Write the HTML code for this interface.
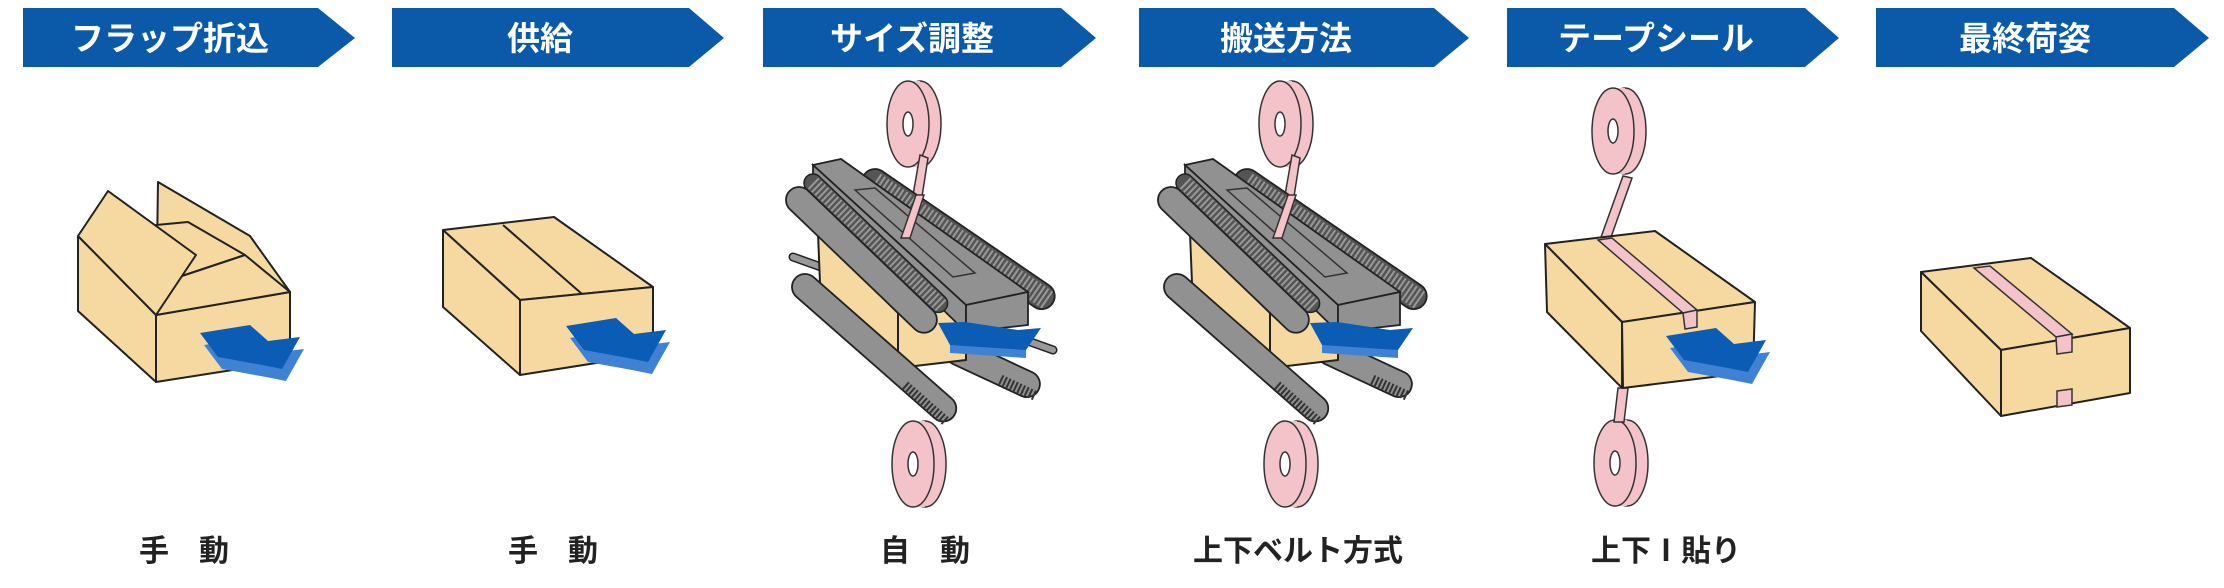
<!DOCTYPE html>
<html><head><meta charset="utf-8"><style>
html,body{margin:0;padding:0;background:#fff;}
svg{display:block;}
.bt{font-family:"Liberation Sans","Noto Sans CJK JP",sans-serif;font-weight:bold;fill:#fff;font-size:33px;}
.lb{font-family:"Liberation Sans","Noto Sans CJK JP",sans-serif;font-weight:bold;fill:#222;font-size:30px;}
.bx{fill:#f6d9a1;stroke:#222;stroke-width:2;stroke-linejoin:round;}
.pk{fill:#f4c3c9;stroke:#333;stroke-width:1.5;}
.gy{fill:#919191;stroke:#222;stroke-width:1.8;}
</style></head><body>
<svg width="2224" height="588" viewBox="0 0 2224 588" xmlns="http://www.w3.org/2000/svg">
<defs>
<g id="arrow">
<polygon points="4,20 54,12 72,28 104,24 86,56 66,52 22,44" fill="#3f82d4"/>
<polygon points="0,8 50,0 68,16 100,12 82,44 62,40 18,32" fill="#0b5cb5"/>
</g>
<g id="reel">
<ellipse cx="12" cy="0" rx="21" ry="43" class="pk"/>
<rect x="0" y="-43" width="12" height="86" fill="#f4c3c9"/>
<ellipse cx="0" cy="0" rx="21" ry="43" class="pk"/>
<ellipse cx="0" cy="0" rx="5" ry="12" fill="#fff" stroke="#333" stroke-width="1.5"/>
</g>
<g id="mach">
<use href="#reel" x="1280" y="124"/>
<use href="#reel" x="1285" y="464"/>
<polygon class="pk" points="1292,155 1300,158 1288,235 1278,235"/>
<g transform="translate(1247,182) rotate(34.4)">
<rect x="-13" y="-13" width="228" height="26" rx="13" fill="#555" stroke="#222" stroke-width="1.8"/>
<line x1="0" y1="0" x2="210" y2="0" stroke="#999" stroke-width="20" stroke-dasharray="2 2.5"/>
</g>
<g transform="translate(1330,352) rotate(25)">
<rect x="-13" y="-13" width="102" height="26" rx="13" class="gy"/>
<line x1="50" y1="7" x2="88" y2="7" stroke="#333" stroke-width="10" stroke-dasharray="2 2"/>
</g>
<polygon class="bx" points="1190,233 1270,313 1270,368 1192,283" stroke-width="1.5"/>
<polygon class="bx" points="1270,313 1338,305 1338,360 1270,368" stroke-width="1.5"/>
<g transform="translate(1177,287) rotate(41.3)">
<rect x="-13" y="-13" width="210" height="26" rx="13" class="gy"/>
<line x1="140" y1="8" x2="195" y2="8" stroke="#333" stroke-width="10" stroke-dasharray="2 2"/>
</g>
<polygon class="gy" points="1185,165 1213,159 1400,292 1338,305"/>
<polygon class="gy" points="1185,165 1338,305 1338,332 1185,183"/>
<polygon class="gy" points="1338,305 1400,292 1400,325 1338,332"/>
<polygon points="1227,190 1247,188 1347,273 1325,277" fill="none" stroke="#333" stroke-width="1.5"/>
<g transform="translate(1185,183) rotate(43.8)">
<rect x="-9" y="-9" width="192" height="18" rx="9" fill="#555" stroke="#222" stroke-width="1.5"/>
<line x1="0" y1="0" x2="178" y2="0" stroke="#999" stroke-width="15" stroke-dasharray="2 2.5"/>
</g>
<g transform="translate(1171,200) rotate(43.8)">
<rect x="-13" y="-13" width="199" height="26" rx="13" class="gy"/>
</g>
<polygon class="pk" points="1288,195 1296,195 1282,238 1273,238" stroke-width="1"/>
<polygon points="1322,340 1398,345 1398,358 1322,353" fill="#3f82d4"/>
<polygon points="1310,323 1337,322 1390,330 1413,328 1398,350 1322,345" fill="#0b5cb5"/>
</g>
</defs>

<g fill="#0b5aa9">
<polygon points="23,8 318,8 355,38 318,67 23,67"/>
<polygon points="392,8 689,8 724,38 689,67 392,67"/>
<polygon points="763,8 1061,8 1096,38 1061,67 763,67"/>
<polygon points="1139,8 1434,8 1469,38 1434,67 1139,67"/>
<polygon points="1507,8 1805,8 1839,38 1805,67 1507,67"/>
<polygon points="1876,8 2174,8 2209,38 2174,67 1876,67"/>
</g>
<text class="bt" x="170" y="50" text-anchor="middle">フラップ折込</text>
<text class="bt" x="540" y="50" text-anchor="middle">供給</text>
<text class="bt" x="912" y="50" text-anchor="middle">サイズ調整</text>
<text class="bt" x="1286" y="50" text-anchor="middle">搬送方法</text>
<text class="bt" x="1656" y="50" text-anchor="middle">テープシール</text>
<text class="bt" x="2025" y="50" text-anchor="middle">最終荷姿</text>

<polygon class="bx" points="158,182 250,236 290,292 156,315" />
<polygon class="bx" points="156,225 188,222 245,255 179,277" fill="#ecd09a"/>
<polygon class="bx" points="78,236 156,315 156,382 78,311"/>
<polygon class="bx" points="156,315 290,292 290,361 156,382"/>
<polygon class="bx" points="179,277 245,255 290,292 156,315"/>
<polygon class="bx" points="78,236 108,191 196,255 156,315"/>
<use href="#arrow" x="200" y="325"/>

<polygon class="bx" points="443,230 554,217 653,287 520,300"/>
<polygon class="bx" points="443,230 520,300 520,375 443,307"/>
<polygon class="bx" points="520,300 653,287 653,354 520,375"/>
<line x1="503" y1="225" x2="582" y2="294" stroke="#222" stroke-width="2"/>
<use href="#arrow" x="566" y="318"/>

<line x1="793" y1="257" x2="1053" y2="350" stroke="#222" stroke-width="9" stroke-linecap="round"/>
<line x1="793" y1="257" x2="1053" y2="350" stroke="#999" stroke-width="6" stroke-linecap="round"/>
<use href="#mach" x="-372" y="0"/>
<use href="#mach" x="0" y="0"/>

<use href="#reel" x="1613" y="131"/>
<use href="#reel" x="1615" y="463"/>
<polygon class="pk" points="1623,176 1632,178 1610,240 1600,240"/>
<polygon class="pk" points="1618,388 1628,388 1624,422 1614,422"/>
<polygon class="bx" points="1545,244 1655,231 1755,302 1622,322"/>
<polygon class="bx" points="1545,244 1622,322 1622,388 1547,312"/>
<polygon class="bx" points="1622,322 1755,302 1753,372 1623,388"/>
<polygon class="pk" points="1598,240 1612,238 1697,310 1683,313" stroke-width="1"/>
<polygon class="pk" points="1683,313 1697,310 1697,327 1685,329" stroke-width="1"/>
<use href="#arrow" x="1666" y="328"/>

<polygon class="bx" points="1921,272 2031,258 2130,328 2001,350"/>
<polygon class="bx" points="1921,272 2001,350 2001,416 1921,331"/>
<polygon class="bx" points="2001,350 2130,328 2130,393 2001,416"/>
<polygon class="pk" points="1974,268 1990,266 2072,334 2056,337" stroke-width="1"/>
<polygon class="pk" points="2056,337 2072,334 2072,352 2057,354" stroke-width="1"/>
<polygon class="pk" points="2057,391 2072,389 2072,405 2057,407" stroke-width="1"/>

<text class="lb" x="184" y="561" text-anchor="middle">手　動</text>
<text class="lb" x="553" y="561" text-anchor="middle">手　動</text>
<text class="lb" x="925" y="561" text-anchor="middle">自　動</text>
<text class="lb" x="1298" y="561" text-anchor="middle">上下ベルト方式</text>
<text class="lb" x="1666" y="561" text-anchor="middle">上下Ⅰ貼り</text>
</svg>
</body></html>
